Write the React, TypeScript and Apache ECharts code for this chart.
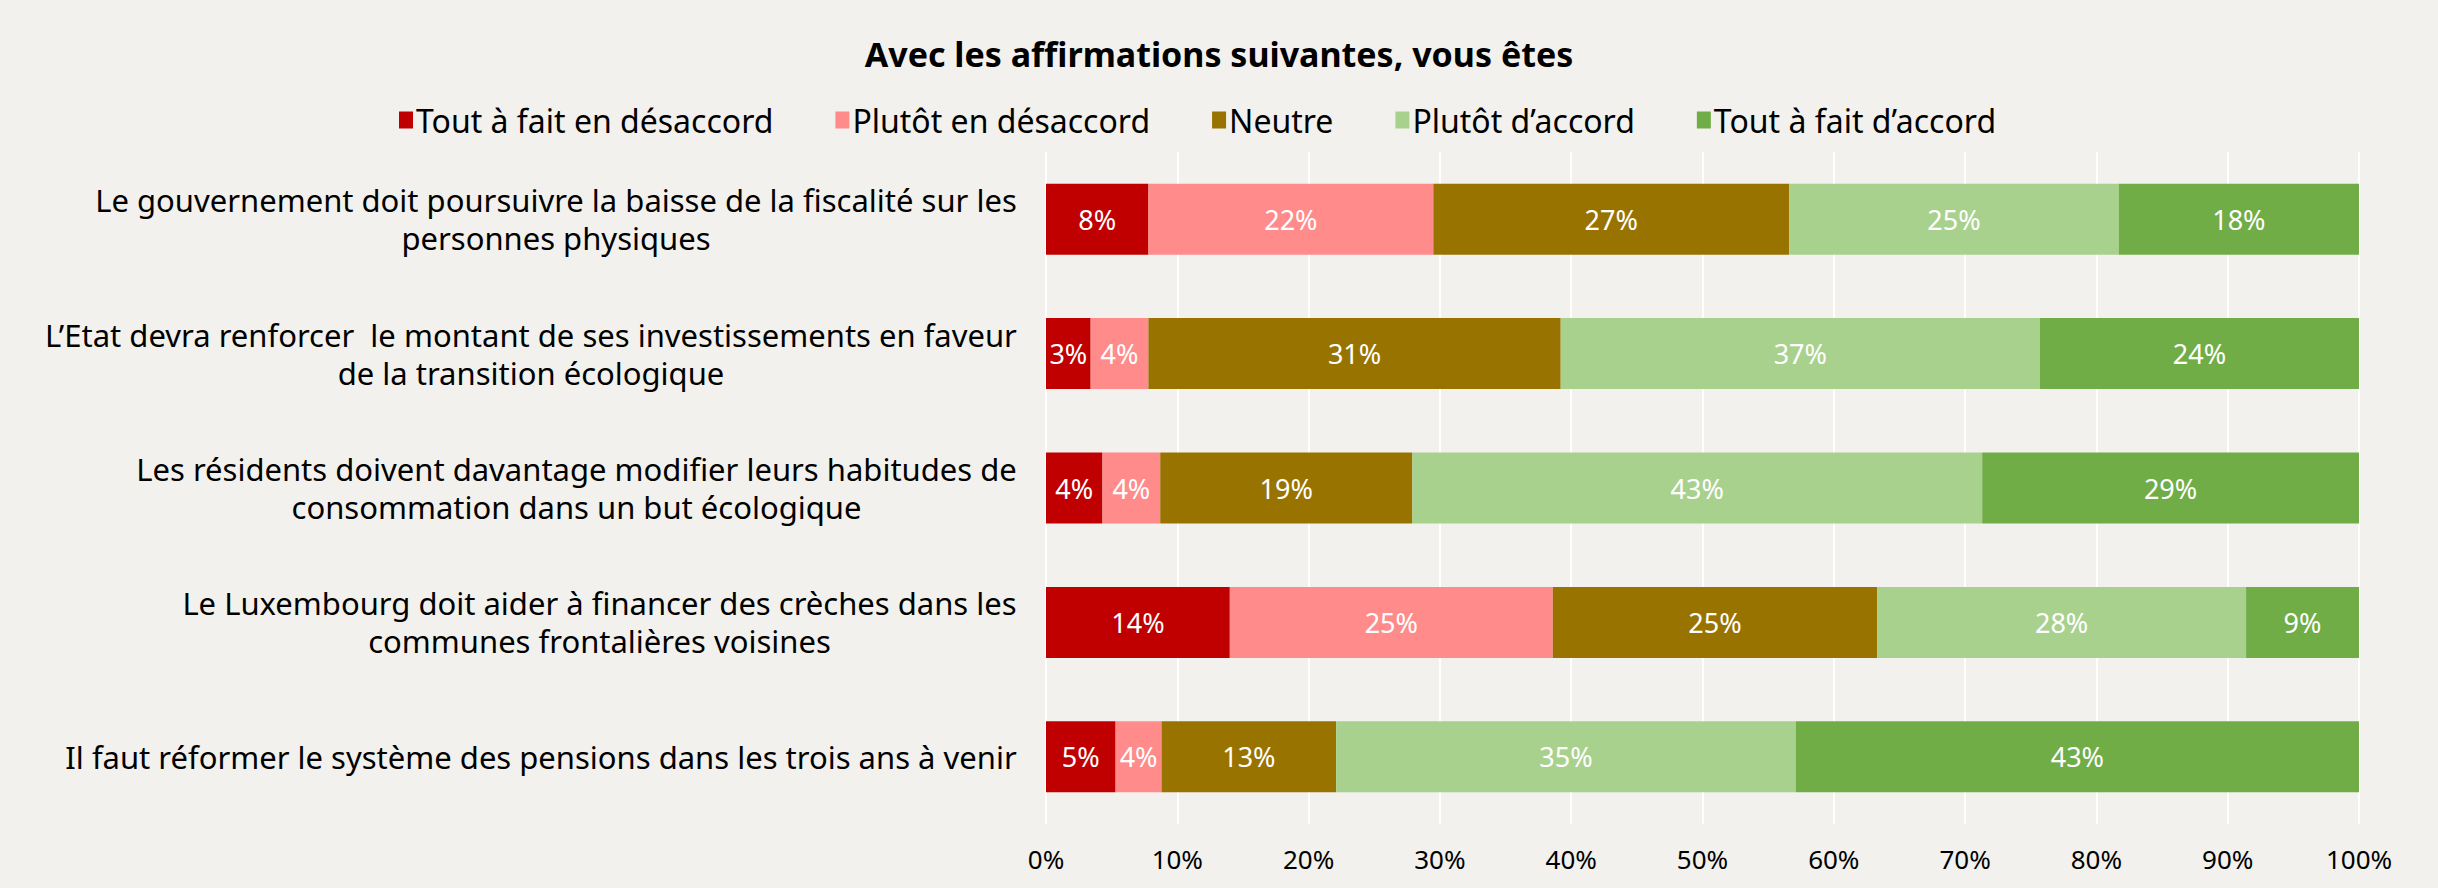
import React, { useEffect, useRef } from "react";
import * as echarts from "echarts";

const titleText = "Avec les affirmations suivantes, vous êtes";

const categories = [
  "Le gouvernement doit poursuivre la baisse de la fiscalité sur les\npersonnes physiques",
  "L’Etat devra renforcer  le montant de ses investissements en faveur\nde la transition écologique",
  "Les résidents doivent davantage modifier leurs habitudes de\nconsommation dans un but écologique",
  "Le Luxembourg doit aider à financer des crèches dans les\ncommunes frontalières voisines",
  "Il faut réformer le système des pensions dans les trois ans à venir",
];

const seriesNames = [
  "Tout à fait en désaccord",
  "Plutôt en désaccord",
  "Neutre",
  "Plutôt d’accord",
  "Tout à fait d’accord",
];

const toutDesaccord = [7.8, 3.4, 4.3, 14.0, 5.3];
const plutotDesaccord = [21.7, 4.4, 4.4, 24.6, 3.5];
const neutre = [27.1, 31.4, 19.2, 24.7, 13.3];
const plutotAccord = [25.1, 36.5, 43.4, 28.1, 35.0];
const toutAccord = [18.3, 24.3, 28.7, 8.6, 42.9];

const colors = ["#C00000", "#FF8B8B", "#997300", "#A9D18E", "#70AD47"];

const FONT = '"Noto Sans", sans-serif';
const CAT_SIZE = 31;
const CAT_LINE = 38;

function measure(text: string, font: string): number {
  const ctx = document.createElement("canvas").getContext("2d");
  if (!ctx) return text.length * 15;
  ctx.font = font;
  return ctx.measureText(text).width;
}

export default function App() {
  const ref = useRef<HTMLDivElement>(null);

  useEffect(() => {
    document.body.style.margin = "0";
    document.body.style.background = "#F2F1ED";
    if (!ref.current) return;
    const chart = echarts.init(ref.current, undefined, { renderer: "svg" });

    const rich: Record<string, any> = {};
    categories.forEach((c, i) => {
      const w = Math.max(
        ...c.split("\n").map((l) => measure(l, `${CAT_SIZE}px ${FONT}`))
      );
      rich["r" + i] = {
        width: Math.ceil(w) + 2,
        align: "center",
        fontSize: CAT_SIZE,
        fontFamily: FONT,
        color: "#000",
        lineHeight: CAT_LINE,
      };
    });

    const dataArrays = [toutDesaccord, plutotDesaccord, neutre, plutotAccord, toutAccord];

    chart.setOption({
      animation: false,
      backgroundColor: "#F2F1ED",
      title: {
        text: titleText,
        left: "center",
        top: 32,
        textStyle: { fontFamily: FONT, fontSize: 34, fontWeight: "bold", color: "#000" },
      },
      legend: {
        left: 394,
        top: 99,
        icon: "rect",
        itemWidth: 14,
        itemHeight: 17,
        itemGap: 62,
        textStyle: { fontFamily: FONT, fontSize: 32, color: "#000", padding: [0, 0, 0, -2] },
        data: seriesNames,
      },
      grid: { left: 1046, right: 79, top: 152, bottom: 64, containLabel: false },
      xAxis: {
        type: "value",
        min: 0,
        max: 100,
        interval: 10,
        axisLine: { show: false },
        axisTick: { show: false },
        splitLine: { show: true, lineStyle: { color: "#FFFFFF", width: 2 } },
        axisLabel: {
          formatter: "{value}%",
          fontFamily: FONT,
          fontSize: 26,
          color: "#000",
          margin: 22,
        },
      },
      yAxis: {
        type: "category",
        inverse: true,
        data: categories,
        axisLine: { show: false },
        axisTick: { show: false },
        axisLabel: {
          margin: 28,
          align: "right",
          fontFamily: FONT,
          fontSize: CAT_SIZE,
          color: "#000",
          lineHeight: CAT_LINE,
          formatter: (value: string, index: number) =>
            value
              .split("\n")
              .map((l) => `{r${index}|${l}}`)
              .join("\n"),
          rich,
        },
      },
      series: dataArrays.map((arr, i) => ({
        name: seriesNames[i],
        type: "bar",
        stack: "total",
        barWidth: 71,
        itemStyle: { color: colors[i] },
        label: {
          show: true,
          position: "inside",
          color: "#FFFFFF",
          fontFamily: FONT,
          fontSize: 27,
          formatter: (p: any) => Math.round(p.value) + "%",
        },
        data: arr,
      })),
    });

    return () => chart.dispose();
  }, []);

  return <div ref={ref} style={{ width: 2438, height: 888 }} />;
}
